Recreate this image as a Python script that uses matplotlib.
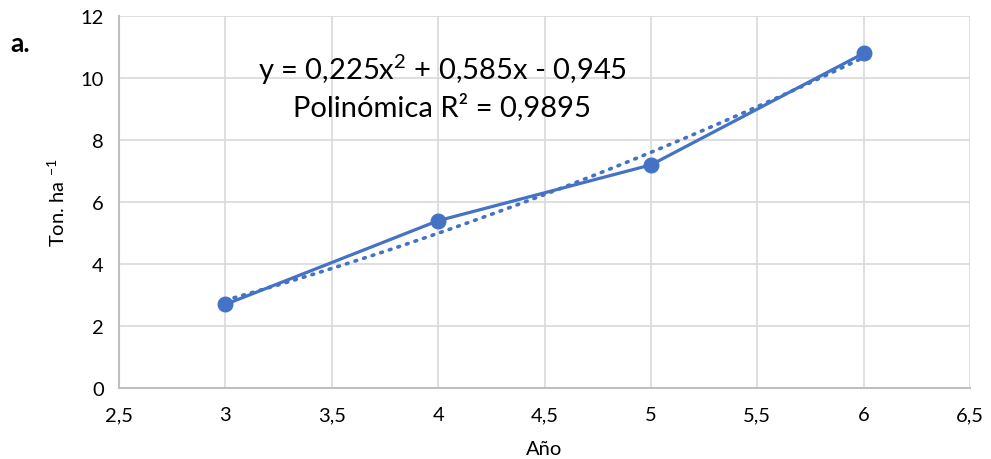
import numpy as np
import matplotlib
matplotlib.use("Agg")
from matplotlib import pyplot as plt

# data
years = [3, 4, 5, 6]
tons = [2.7, 5.4, 7.2, 10.8]
x_ticks = [2.5, 3, 3.5, 4, 4.5, 5, 5.5, 6, 6.5]
y_ticks = [0, 2, 4, 6, 8, 10, 12]
eq_text = "y = 0,225x$^{\\mathregular{2}}$ + 0,585x - 0,945\nPolinómica R² = 0,9895"

plt.rcParams['font.family'] = ['Lato', 'DejaVu Sans']
blue = "#4472C4"

fig = plt.figure(figsize=(9.91, 4.6), dpi=100)
ax = fig.add_axes([0.120, 0.154, 0.859, 0.809])

# polynomial trendline (order 2), fitted from the points
coef = np.polyfit(years, tons, 2)
xs = np.linspace(min(years), max(years), 200)
ax.plot(xs, np.polyval(coef, xs), color=blue, lw=2.6, linestyle=(0, (0.5, 2.0)),
        dash_capstyle="round", zorder=3)

ax.plot(years, tons, color=blue, lw=2.3, marker="o", markersize=10.5, zorder=4)

ax.set_xlim(2.5, 6.5)
ax.set_ylim(0, 12)
ax.set_xticks(x_ticks)
ax.set_yticks(y_ticks)
ax.set_xticklabels([f"{v:g}".replace(".", ",") for v in x_ticks])
ax.set_yticklabels([str(v) for v in y_ticks])
ax.tick_params(length=0, labelsize=14.5, colors="#000000")
ax.tick_params(axis="x", pad=13)
ax.tick_params(axis="y", pad=11)

ax.grid(True, color="#D9D9D9", lw=1.2)
ax.set_axisbelow(True)
for s in ["top", "right"]:
    ax.spines[s].set_visible(False)
for s in ["left", "bottom"]:
    ax.spines[s].set_color("#BFBFBF")
    ax.spines[s].set_linewidth(1.5)

ax.set_xlabel("Año", fontsize=14.5, labelpad=12)
ax.set_ylabel(r"Ton. ha $^{\mathregular{-1}}$", fontsize=14.5, labelpad=9)

ax.text(4.02, 9.75, eq_text, fontsize=21, ha="center", va="center",
        linespacing=1.25, zorder=5)

fig.text(0.010, 0.905, "a.", fontsize=19, fontweight="bold", ha="left", va="center")

plt.savefig("out.png", dpi=100)
